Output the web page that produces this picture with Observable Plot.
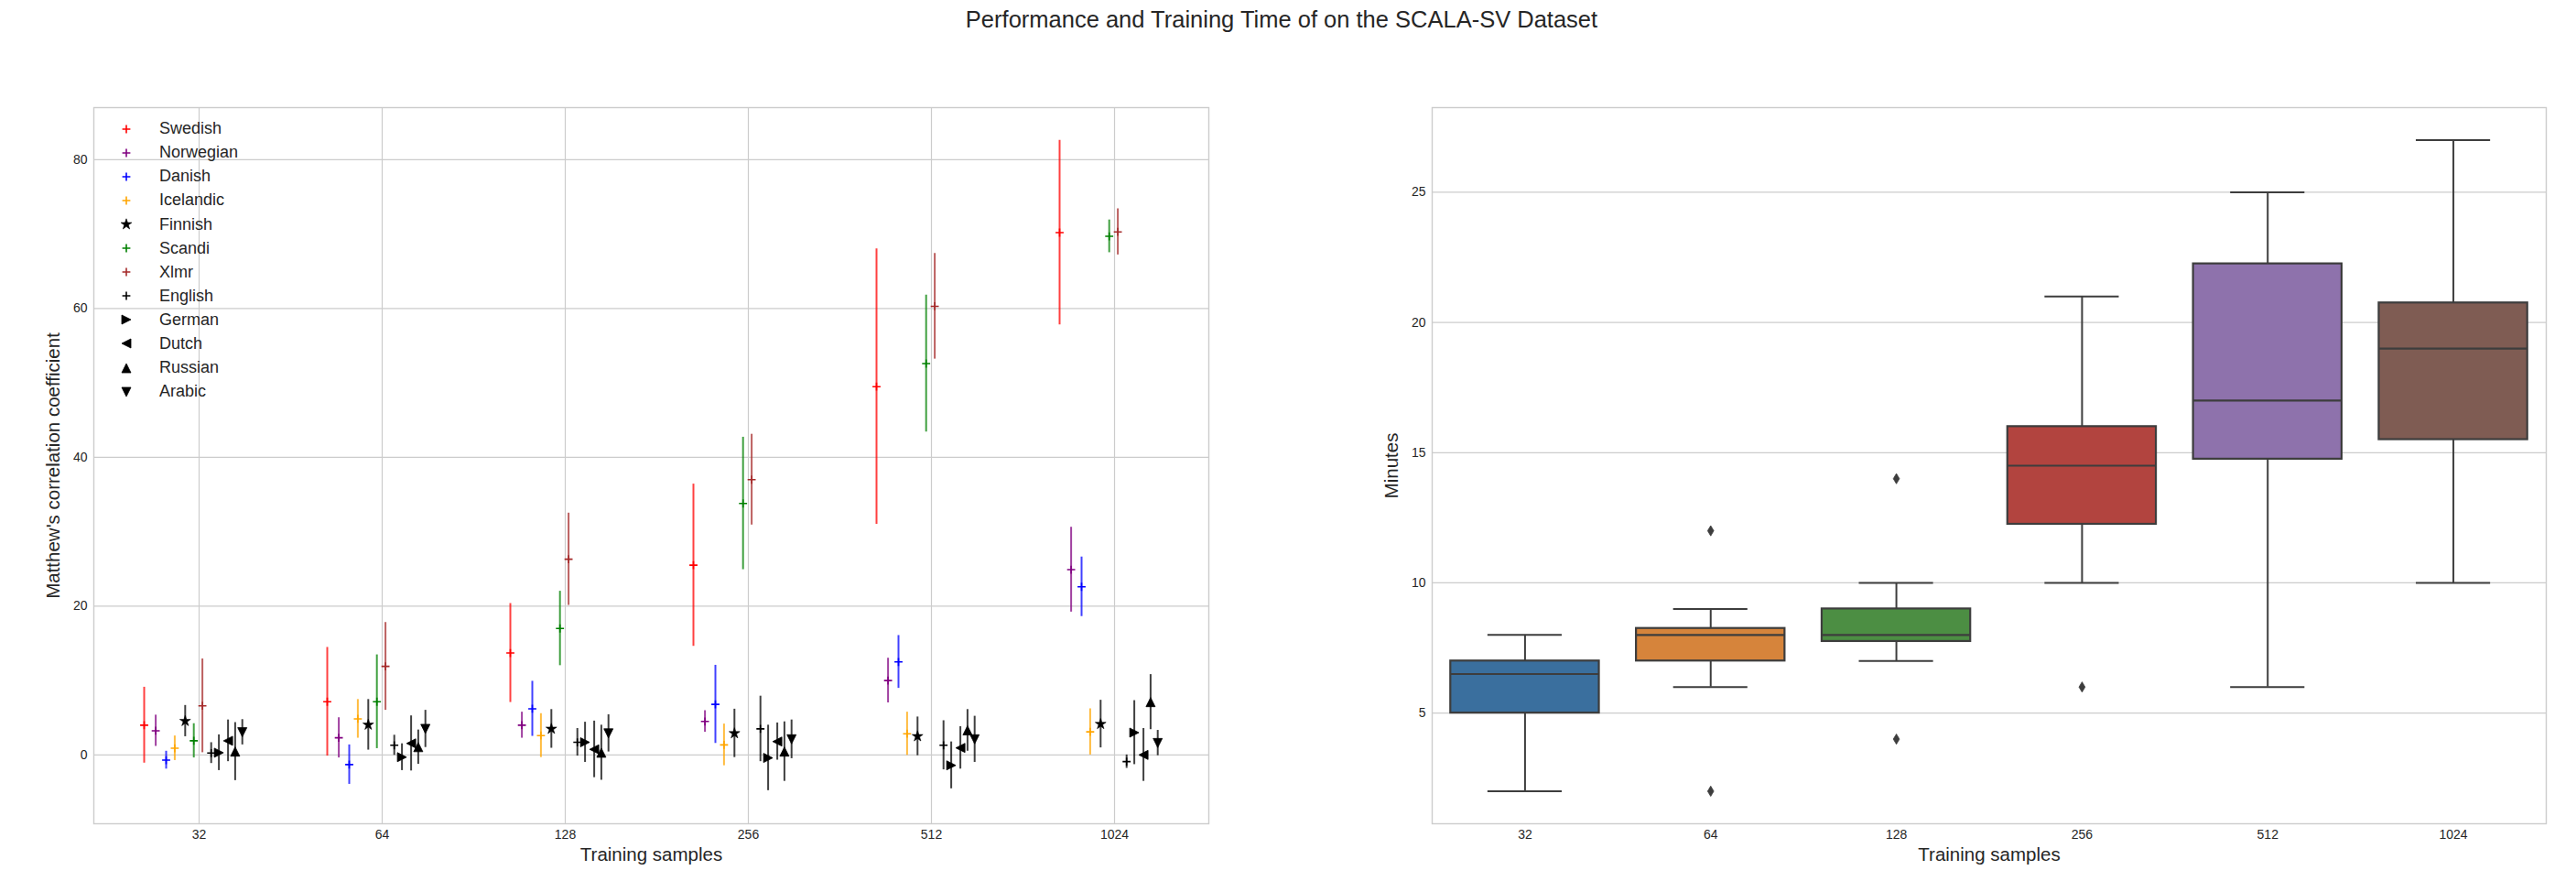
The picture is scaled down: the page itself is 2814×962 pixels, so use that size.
<!DOCTYPE html>
<html>
<head>
<meta charset="utf-8">
<script src="https://cdn.jsdelivr.net/npm/d3@7"></script>
<script src="https://cdn.jsdelivr.net/npm/@observablehq/plot@0.6"></script>
<style>
  html, body { margin: 0; padding: 0; background: #fff; }
  body { width: 2814px; height: 962px; position: relative; overflow: hidden;
         font-family: "Liberation Sans", Arial, sans-serif; color: #262626; }
  #title { position: absolute; left: 0; width: 2800px; top: 9px; text-align: center;
           font-size: 25.5px; line-height: 25.5px; }
  #left { position: absolute; left: 0; top: 0; }
  #right { position: absolute; left: 1420px; top: 0; }
  #legend { position: absolute; left: 130px; top: 127.6px; font-size: 18px; }
  .row { height: 26.1px; display: flex; align-items: center; }
  .row svg { width: 16px; height: 16px; flex: none; overflow: visible; }
  .row span { margin-left: 28px; }
</style>
</head>
<body>
<div id="title"></div>
<div id="left"></div>
<div id="right"></div>
<div id="legend"></div>
<script>
// ---------------- data ----------------
const titleText = "Performance and Training Time of on the SCALA-SV Dataset";
const xLabel = "Training samples";
const leftYLabel = "Matthew's correlation coefficient";
const rightYLabel = "Minutes";

const categories = ["32", "64", "128", "256", "512", "1024"];
const languages = ["Swedish", "Norwegian", "Danish", "Icelandic", "Finnish", "Scandi",
                   "Xlmr", "English", "German", "Dutch", "Russian", "Arabic"];

// Matthew's correlation coefficient: mean and error per training-sample size
const swedishMean   = [4.0, 7.15, 13.7, 25.5, 49.5, 70.2];
const swedishErr    = [5.1, 7.3, 6.65, 10.9, 18.5, 12.4];
const norwegianMean = [3.25, 2.3, 4.0, 4.5, 10.0, 24.9];
const norwegianErr  = [2.1, 2.7, 1.75, 1.45, 3.0, 5.7];
const danishMean    = [-0.7, -1.3, 6.2, 6.8, 12.5, 22.6];
const danishErr     = [1.2, 2.65, 3.7, 5.25, 3.55, 4.0];
const icelandicMean = [0.9, 4.85, 2.6, 1.35, 2.85, 3.1];
const icelandicErr  = [1.65, 2.6, 2.95, 2.8, 2.9, 3.1];
const finnishMean   = [4.55, 4.05, 3.5, 2.9, 2.5, 4.15];
const finnishErr    = [2.1, 3.4, 2.6, 3.25, 2.6, 3.2];
const scandiMean    = [1.9, 7.15, 17.0, 33.8, 52.6, 69.7];
const scandiErr     = [2.3, 6.3, 5.0, 8.9, 9.2, 2.2];
const xlmrMean      = [6.6, 11.9, 26.3, 37.0, 60.3, 70.3];
const xlmrErr       = [6.3, 5.9, 6.2, 6.1, 7.1, 3.1];
const englishMean   = [0.25, 1.3, 1.7, 3.5, 1.3, -0.9];
const englishErr    = [1.4, 1.35, 1.85, 4.4, 3.3, 0.9];
const germanMean    = [0.3, -0.3, 1.7, -0.4, -1.4, 3.0];
const germanErr     = [2.4, 1.8, 2.7, 4.4, 3.15, 4.3];
const dutchMean     = [1.9, 1.55, 0.75, 1.8, 0.95, 0.0];
const dutchErr      = [2.8, 3.7, 3.8, 2.5, 2.85, 3.55];
const russianMean   = [0.45, 1.05, 0.3, 0.45, 3.3, 7.1];
const russianErr    = [3.9, 2.3, 3.7, 4.0, 2.8, 3.7];
const arabicMean    = [3.05, 3.5, 2.9, 2.1, 2.1, 1.6];
const arabicErr     = [1.7, 2.5, 2.5, 2.6, 3.1, 1.7];

// Training time (minutes) box statistics per training-sample size
const boxLow    = [2, 6, 7, 10, 6, 10];
const boxQ1     = [5, 7, 7.75, 12.25, 14.75, 15.5];
const boxMedian = [6.5, 8, 8, 14.5, 17, 19];
const boxQ3     = [7, 8.25, 9, 16, 22.25, 20.75];
const boxHigh   = [8, 9, 10, 21, 25, 27];
const outlierCategory = ["64", "64", "128", "128", "256"];
const outlierMinutes  = [12, 2, 14, 4, 6];

// ---------------- styling ----------------
const languageColors = ["red", "purple", "blue", "orange", "black", "green",
                        "brown", "black", "black", "black", "black", "black"];
const languageMarkers = ["plus", "plus", "plus", "plus", "star", "plus",
                         "plus", "plus", "triangleRight", "triangleLeft", "triangleUp", "triangleDown"];
const dodge = [-0.30, -0.237, -0.18, -0.133, -0.076, -0.029, 0.018, 0.066, 0.108, 0.158, 0.197, 0.236];
const boxColors = ["#3a6f9e", "#d6843b", "#4c8e43", "#b2443f", "#8e72ac", "#7f5c53"];
const FONT = '"Liberation Sans", Arial, sans-serif';
const GRID = "#cccccc";
const INK = "#262626";
const EDGE = "#3d3d3d";

const means = [swedishMean, norwegianMean, danishMean, icelandicMean, finnishMean, scandiMean,
               xlmrMean, englishMean, germanMean, dutchMean, russianMean, arabicMean];
const errs  = [swedishErr, norwegianErr, danishErr, icelandicErr, finnishErr, scandiErr,
               xlmrErr, englishErr, germanErr, dutchErr, russianErr, arabicErr];

// custom matplotlib-like markers (size = pi r^2)
const R = s => Math.sqrt(s / Math.PI);
const symbols = {
  plus: {draw(c, s) { const r = R(s); c.moveTo(-r, 0); c.lineTo(r, 0); c.moveTo(0, -r); c.lineTo(0, r); }},
  star: {draw(c, s) {
    const r = R(s), ri = r * 0.382;
    for (let k = 0; k < 10; k++) {
      const a = -Math.PI / 2 + k * Math.PI / 5, rr = k % 2 ? ri : r;
      const x = rr * Math.cos(a), y = rr * Math.sin(a);
      if (k) c.lineTo(x, y); else c.moveTo(x, y);
    }
    c.closePath();
  }},
  triangleUp:    {draw(c, s) { const r = R(s); c.moveTo(0, -r); c.lineTo(r, r); c.lineTo(-r, r); c.closePath(); }},
  triangleDown:  {draw(c, s) { const r = R(s); c.moveTo(0, r); c.lineTo(r, -r); c.lineTo(-r, -r); c.closePath(); }},
  triangleRight: {draw(c, s) { const r = R(s); c.moveTo(r, 0); c.lineTo(-r, -r); c.lineTo(-r, r); c.closePath(); }},
  triangleLeft:  {draw(c, s) { const r = R(s); c.moveTo(-r, 0); c.lineTo(r, -r); c.lineTo(r, r); c.closePath(); }},
  thinDiamond:   {draw(c, s) { const r = R(s); c.moveTo(0, -r); c.lineTo(r * 0.6, 0); c.lineTo(0, r); c.lineTo(-r * 0.6, 0); c.closePath(); }}
};
const markerStyle = (m, color) => m === "plus"
  ? {r: 4.4, fill: "none", stroke: color, strokeWidth: 1.6}
  : m === "star"
  ? {r: 6.2, fill: color, stroke: color, strokeWidth: 0.6}
  : {r: 5, fill: color, stroke: color, strokeWidth: 0.8};

// ---------------- title ----------------
document.getElementById("title").textContent = titleText;

// ---------------- left chart ----------------
const rows = [];
languages.forEach((lang, s) => categories.forEach((cat, i) => rows.push({
  lang, cat, x: i + dodge[s], mean: means[s][i], err: errs[s][i], color: languageColors[s]
})));

const catIdx = d3.range(categories.length);

const left = Plot.plot({
  width: 1400, height: 962,
  marginLeft: 102, marginRight: 80, marginTop: 117, marginBottom: 63,
  style: {fontFamily: FONT, fontSize: "14px", color: INK, background: "transparent"},
  x: {domain: [-0.575, 5.515], label: null},
  y: {domain: [-9.25, 87.0], label: null},
  color: {type: "identity"},
  marks: [
    Plot.gridX(catIdx, {stroke: GRID, strokeOpacity: 1, strokeWidth: 1.2}),
    Plot.gridY([0, 20, 40, 60, 80], {stroke: GRID, strokeOpacity: 1, strokeWidth: 1.2}),
    Plot.frame({stroke: GRID, strokeWidth: 1.4}),
    Plot.axisX(catIdx, {tickFormat: i => categories[i], tickSize: 0, tickPadding: 7, label: null, fill: INK}),
    Plot.axisY([0, 20, 40, 60, 80], {tickSize: 0, tickPadding: 7, label: null, fill: INK}),
    Plot.ruleX(rows, {x: "x", y1: d => d.mean - d.err, y2: d => d.mean + d.err,
                      stroke: "color", strokeWidth: 2, strokeOpacity: 0.75}),
    ...languages.map((lang, s) => Plot.dot(rows.filter(d => d.lang === lang), {
      x: "x", y: "mean", symbol: symbols[languageMarkers[s]], ...markerStyle(languageMarkers[s], languageColors[s])
    })),
    Plot.text([leftYLabel], {text: d => d, frameAnchor: "left", dx: -44, rotate: -90,
                             textAnchor: "middle", lineAnchor: "middle", fontSize: 20.5, fill: INK}),
    Plot.text([xLabel], {text: d => d, frameAnchor: "bottom", dy: 34,
                         textAnchor: "middle", lineAnchor: "middle", fontSize: 20.5, fill: INK})
  ]
});
document.getElementById("left").appendChild(left);

// legend
const legend = d3.select("#legend");
languages.forEach((lang, s) => {
  const row = legend.append("div").attr("class", "row");
  const svg = row.append("svg").attr("viewBox", "-8 -8 16 16");
  const m = languageMarkers[s], st = markerStyle(m, languageColors[s]);
  const p = d3.path();
  symbols[m].draw(p, st.r * st.r * Math.PI);
  svg.append("path").attr("d", p.toString())
    .attr("fill", st.fill).attr("stroke", st.stroke).attr("stroke-width", st.strokeWidth);
  row.append("span").text(lang);
});

// ---------------- right chart ----------------
const boxes = categories.map((cat, i) => ({
  cat, i, lo: boxLow[i], q1: boxQ1[i], median: boxMedian[i], q3: boxQ3[i], hi: boxHigh[i], color: boxColors[i]
}));
const outliers = outlierCategory.map((cat, k) => ({i: categories.indexOf(cat), minutes: outlierMinutes[k]}));
const boxHalf = 0.4, capHalf = 0.2;

const right = Plot.plot({
  width: 1394, height: 962,
  marginLeft: 144, marginRight: 33, marginTop: 117, marginBottom: 63,
  style: {fontFamily: FONT, fontSize: "14px", color: INK, background: "transparent"},
  x: {domain: [-0.5, 5.5], label: null},
  y: {domain: [0.75, 28.25], label: null},
  color: {type: "identity"},
  marks: [
    Plot.gridY([5, 10, 15, 20, 25], {stroke: GRID, strokeOpacity: 1, strokeWidth: 1.2}),
    Plot.frame({stroke: GRID, strokeWidth: 1.4}),
    Plot.axisX(catIdx, {tickFormat: i => categories[i], tickSize: 0, tickPadding: 7, label: null, fill: INK}),
    Plot.axisY([5, 10, 15, 20, 25], {tickSize: 0, tickPadding: 7, label: null, fill: INK}),
    Plot.ruleX(boxes, {x: "i", y1: "q3", y2: "hi", stroke: EDGE, strokeWidth: 2}),
    Plot.ruleX(boxes, {x: "i", y1: "q1", y2: "lo", stroke: EDGE, strokeWidth: 2}),
    Plot.ruleY(boxes, {y: "hi", x1: d => d.i - capHalf, x2: d => d.i + capHalf, stroke: EDGE, strokeWidth: 2}),
    Plot.ruleY(boxes, {y: "lo", x1: d => d.i - capHalf, x2: d => d.i + capHalf, stroke: EDGE, strokeWidth: 2}),
    Plot.rect(boxes, {x1: d => d.i - boxHalf, x2: d => d.i + boxHalf, y1: "q1", y2: "q3",
                      fill: "color", stroke: EDGE, strokeWidth: 2.2}),
    Plot.ruleY(boxes, {y: "median", x1: d => d.i - boxHalf, x2: d => d.i + boxHalf, stroke: EDGE, strokeWidth: 2.2}),
    Plot.dot(outliers, {x: "i", y: "minutes", symbol: symbols.thinDiamond, r: 5.6, fill: EDGE, stroke: EDGE, strokeWidth: 0.8}),
    Plot.text([rightYLabel], {text: d => d, frameAnchor: "left", dx: -44.5, rotate: -90,
                              textAnchor: "middle", lineAnchor: "middle", fontSize: 20.5, fill: INK}),
    Plot.text([xLabel], {text: d => d, frameAnchor: "bottom", dy: 34,
                         textAnchor: "middle", lineAnchor: "middle", fontSize: 20.5, fill: INK})
  ]
});
document.getElementById("right").appendChild(right);
</script>
</body>
</html>
